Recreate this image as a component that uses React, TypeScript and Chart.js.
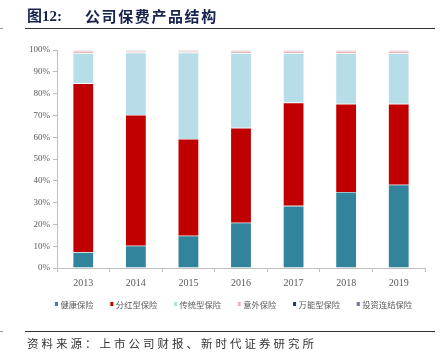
import React, { useEffect, useRef } from "react";
import { Chart, registerables } from "chart.js";

Chart.register(...registerables);

const years = ["2013", "2014", "2015", "2016", "2017", "2018", "2019"];
const health = [7.3, 10.2, 14.8, 20.8, 28.5, 34.9, 38.2];
const dividend = [77.4, 60.0, 44.4, 43.5, 47.4, 40.4, 37.1];
const traditional = [13.9, 28.6, 39.6, 34.3, 22.7, 23.1, 23.1];
const accident = [1.0, 0.8, 0.8, 1.0, 1.0, 1.2, 1.2];
const universal = [0.2, 0.2, 0.2, 0.2, 0.2, 0.2, 0.2];
const investment = [0.2, 0.2, 0.2, 0.2, 0.2, 0.2, 0.2];

const seriesNames = ["健康保险", "分红型保险", "传统型保险", "意外保险", "万能型保险", "投资连结保险"];
const seriesColors = ["#31849B", "#C00000", "#B7DEE8", "#E6B9B8", "#1F3864", "#8064A2"];
const yTicks = [0, 10, 20, 30, 40, 50, 60, 70, 80, 90, 100];

const TITLE_NUM = "图12:";
const TITLE_TEXT = "公司保费产品结构";
const SOURCE_TEXT = "资料来源：上市公司财报、新时代证券研究所";

const bottomLegend = {
  id: "bottomLegend",
  afterDraw(chart: any) {
    const ctx = chart.ctx;
    const fontSize = 8.3;
    const markW = 3;
    const markH = 4;
    const innerGap = 2.5;
    const gap = 16.7;
    const centerX = 233.5;
    const y = 304;
    ctx.save();
    ctx.font = `${fontSize}px 'Noto Sans CJK SC'`;
    ctx.textBaseline = "middle";
    ctx.textAlign = "left";
    const items = chart.data.datasets.map((d: any) => ({
      label: d.label,
      color: d.backgroundColor,
      w: ctx.measureText(d.label).width,
    }));
    const total =
      items.reduce((a: number, it: any) => a + markW + innerGap + it.w, 0) + gap * (items.length - 1);
    let x = centerX - total / 2;
    for (const it of items) {
      ctx.fillStyle = it.color;
      ctx.fillRect(x, y - markH / 2, markW, markH);
      x += markW + innerGap;
      ctx.fillStyle = "#595959";
      ctx.fillText(it.label, x, y + 0.5);
      x += it.w + gap;
    }
    ctx.restore();
  },
};

export default function App() {
  const ref = useRef<HTMLCanvasElement | null>(null);

  useEffect(() => {
    if (!ref.current) return;
    const values = [health, dividend, traditional, accident, universal, investment];
    const padL = 20;
    const chart = new Chart(ref.current, {
      type: "bar",
      data: {
        labels: years,
        datasets: seriesNames.map((name, i) => ({
          label: name,
          data: values[i],
          backgroundColor: seriesColors[i],
          borderColor: "rgba(255,255,255,0.35)",
          borderWidth: 0.6,
          categoryPercentage: 1,
          barPercentage: 0.4,
        })),
      },
      options: {
        responsive: false,
        animation: false,
        layout: { padding: { left: padL, right: 15, top: 50, bottom: 70 } },
        plugins: {
          title: { display: false },
          tooltip: { enabled: false },
          legend: { display: false },
        },
        scales: {
          x: {
            stacked: true,
            grid: {
              display: true,
              drawOnChartArea: false,
              drawTicks: true,
              tickLength: 4,
              color: "#BFBFBF",
              offset: true,
            },
            border: { display: true, color: "#BFBFBF" },
            ticks: {
              color: "#595959",
              padding: 5,
              font: { family: "'Liberation Serif'", size: 10 },
            },
            afterFit: (s: any) => {
              s.height = 20;
            },
          },
          y: {
            stacked: true,
            min: 0,
            max: 100,
            afterBuildTicks: (s: any) => {
              s.ticks = yTicks.map((v) => ({ value: v }));
            },
            grid: {
              display: true,
              drawOnChartArea: false,
              drawTicks: true,
              tickLength: 4,
              color: "#BFBFBF",
            },
            border: { display: true, color: "#BFBFBF" },
            ticks: {
              color: "#595959",
              padding: 3,
              font: { family: "'Liberation Serif'", size: 9 },
              callback: (v: any) => v + "%",
            },
            afterFit: (s: any) => {
              s.width = 57 - padL;
            },
          },
        },
      },
      plugins: [bottomLegend],
    });
    return () => chart.destroy();
  }, []);

  return (
    <div style={{ position: "absolute", left: 0, top: 0, width: 440, height: 358, background: "#fff" }}>
      <canvas ref={ref} width={440} height={358} style={{ position: "absolute", left: 0, top: 0 }} />
      <div
        style={{
          position: "absolute",
          left: 27,
          top: 6,
          fontFamily: "'Liberation Serif', 'Noto Sans CJK SC'",
          fontWeight: 700,
          fontSize: 15,
          color: "#17234F",
          whiteSpace: "nowrap",
          lineHeight: "20px",
        }}
      >
        {TITLE_NUM}
      </div>
      <div
        style={{
          position: "absolute",
          left: 85,
          top: 6,
          fontFamily: "'Noto Sans CJK SC'",
          fontWeight: 700,
          fontSize: 15,
          letterSpacing: 1.6,
          color: "#17234F",
          whiteSpace: "nowrap",
          lineHeight: "20px",
        }}
      >
        {TITLE_TEXT}
      </div>
      <div style={{ position: "absolute", left: 25, top: 28, width: 410, height: 1, background: "#333" }} />
      <div style={{ position: "absolute", left: 0, top: 28, width: 3, height: 1, background: "#999" }} />
      <div style={{ position: "absolute", left: 25, top: 331, width: 410, height: 1, background: "#333" }} />
      <div style={{ position: "absolute", left: 0, top: 331, width: 3, height: 1, background: "#999" }} />
      <div
        style={{
          position: "absolute",
          left: 27,
          top: 335,
          fontFamily: "'Noto Sans CJK SC'",
          fontSize: 11.5,
          letterSpacing: 3,
          color: "#333",
          whiteSpace: "nowrap",
          lineHeight: "16px",
        }}
      >
        {SOURCE_TEXT}
      </div>
    </div>
  );
}
